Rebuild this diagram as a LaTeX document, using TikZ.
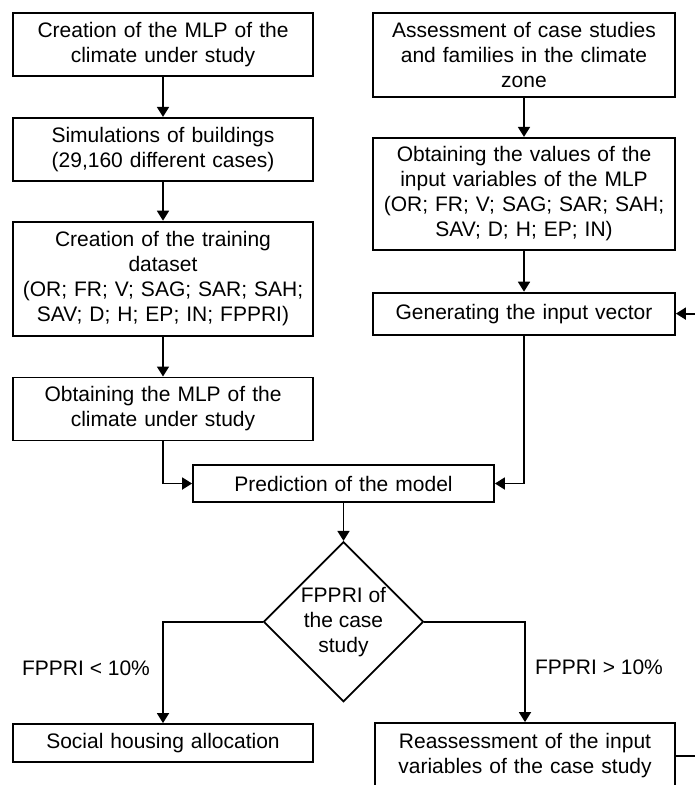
\documentclass[tikz,border=0pt]{standalone}
\usepackage{fontspec}
\setmainfont{Liberation Sans}
\usetikzlibrary{arrows.meta,positioning,shapes.geometric}

\begin{document}
\begin{tikzpicture}[
    x=1pt,y=-1pt,
    node distance=40pt,
    box/.style={draw=black,fill=white,line width=1.8pt,
      align=center,text width=290pt,minimum width=300pt,inner ysep=4pt,
      font=\fontsize{21}{25}\selectfont},
    decision/.style={diamond,draw=black,fill=white,line width=1.8pt,
      align=center,minimum width=160pt,minimum height=160pt,inner sep=0pt,
      font=\fontsize{21}{25}\selectfont},
    lbl/.style={font=\fontsize{21}{25}\selectfont},
    arrow/.style={-{Triangle[length=10pt,width=12pt]},draw=black,line width=1.8pt}
  ]
    \useasboundingbox (0,0) rectangle (695,785);
    \node[box,minimum height=63pt] (mlp) at (163,44.5) {Creation of the MLP of the\\climate under study};
    \node[box,minimum height=63pt,below=40pt of mlp] (sim) {Simulations of buildings\\(29,160 different cases)};
    \node[box,minimum height=114pt,below=39pt of sim] (train) {Creation of the training\\dataset\\(OR; FR; V; SAG; SAR; SAH;\\SAV; D; H; EP; IN; FPPRI)};
    \node[box,minimum height=63pt,below=40pt of train] (mlpout) {Obtaining the MLP of the\\climate under study};
    \node[box,minimum height=84pt,text width=292pt,minimum width=302pt] (assess) at (524,55) {Assessment of case studies\\and families in the climate\\zone};
    \node[box,minimum height=112pt,text width=292pt,minimum width=302pt,below=39pt of assess] (values) {Obtaining the values of the\\input variables of the MLP\\(OR; FR; V; SAG; SAR; SAH;\\SAV; D; H; EP; IN)};
    \node[box,minimum height=42pt,text width=292pt,minimum width=302pt,below=41pt of values] (gen) {Generating the input vector};
    \node[box,minimum height=37pt,text width=291pt,minimum width=301pt] (pred) at (343.5,483.5) {Prediction of the model};
    \node[decision,below=38pt of pred] (fppri) {FPPRI of\\the case\\study};
    \node[box,minimum height=38pt] (social) at (163,743) {Social housing allocation};
    \node[box,minimum height=66pt] (reassess) at (525,756) {Reassessment of the input\\variables of the case study};
    \node[lbl] (low) at (86,668) {FPPRI < 10\%};
    \node[lbl] (high) at (599,667) {FPPRI > 10\%};
    \coordinate (edge) at (703,0);
    \draw[arrow] (mlp)--(sim);
    \draw[arrow] (sim)--(train);
    \draw[arrow] (train)--(mlpout);
    \draw[arrow] (assess)--(values);
    \draw[arrow] (values)--(gen);
    \draw[arrow] (mlpout.south) |- (pred.west);
    \draw[arrow] (gen.south) |- (pred.east);
    \draw[arrow] (pred)--(fppri);
    \draw[arrow] (fppri.west) -| (social.north);
    \draw[arrow] (fppri.east) -| (reassess.north);
    \draw[arrow] (reassess.east) -- (reassess.east -| edge) |- (gen.east);
  \end{tikzpicture}
\end{document}
